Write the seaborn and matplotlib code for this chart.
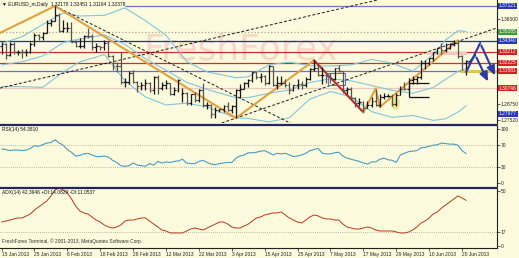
import matplotlib
matplotlib.use("Agg")
import numpy as np
import pandas as pd
import matplotlib.pyplot as plt
import matplotlib.transforms as mtrans
from matplotlib.lines import Line2D
from matplotlib.patches import Rectangle, Ellipse
import seaborn as sns

# ---------------- data ----------------
date_ticks = [0, 8, 16, 24, 32, 40, 48, 56, 64, 72, 80, 88, 96, 104, 112]
date_labels = ["15 Jan 2013", "25 Jan 2013", "6 Feb 2013", "18 Feb 2013", "28 Feb 2013",
               "12 Mar 2013", "22 Mar 2013", "3 Apr 2013", "15 Apr 2013", "25 Apr 2013",
               "7 May 2013", "17 May 2013", "29 May 2013", "10 Jun 2013", "20 Jun 2013"]

bar_open = [1.3363,1.3380,1.3288,1.3385,1.3316,1.3317,1.3316,1.3316,1.3384,1.3457,
            1.3446,1.3478,1.3567,1.3579,1.3634,1.3500,1.3522,1.3523,1.3400,1.3365,
            1.3365,1.3455,1.3451,1.3360,1.3365,1.3362,1.3395,1.3280,1.3193,1.3190,
            1.3060,1.3060,1.3130,1.3055,1.3020,1.3026,1.3050,1.2985,1.3100,1.3005,
            1.3030,1.3045,1.2955,1.2985,1.2950,1.2960,1.2875,1.2950,1.2905,1.2985,
            1.2855,1.2855,1.2780,1.2815,1.2820,1.2845,1.2815,1.2845,1.2990,1.3000,
            1.3050,1.3070,1.3140,1.3100,1.3110,1.3045,1.3190,1.3030,1.3050,1.3050,
            1.3030,1.2990,1.3030,1.3040,1.3030,1.3085,1.3170,1.3180,1.3115,1.3115,
            1.3105,1.3080,1.3175,1.3150,1.2990,1.2995,1.2915,1.2875,1.2880,1.2835,
            1.2855,1.2895,1.2860,1.2930,1.2935,1.2935,1.2865,1.2945,1.3000,1.2995,
            1.3070,1.3085,1.3095,1.3220,1.3220,1.3260,1.3315,1.3345,1.3330,1.3345,
            1.3385,1.3395,1.3280,1.3218]
bar_high = [1.3404,1.3390,1.3403,1.3399,1.3330,1.3343,1.3339,1.3404,1.3478,1.3474,
            1.3491,1.3588,1.3595,1.3711,1.3650,1.3593,1.3576,1.3575,1.3417,1.3435,
            1.3463,1.3520,1.3470,1.3394,1.3370,1.3420,1.3412,1.3288,1.3230,1.3318,
            1.3090,1.3150,1.3160,1.3067,1.3052,1.3079,1.3060,1.3110,1.3120,1.3060,
            1.3076,1.3050,1.3010,1.3084,1.3005,1.2966,1.2954,1.2966,1.2997,1.3050,
            1.2885,1.2866,1.2840,1.2825,1.2855,1.2884,1.2855,1.2996,1.3040,1.3055,
            1.3085,1.3140,1.3150,1.3130,1.3114,1.3200,1.3198,1.3110,1.3110,1.3085,
            1.3059,1.3034,1.3081,1.3066,1.3098,1.3180,1.3243,1.3200,1.3188,1.3125,
            1.3135,1.3180,1.3200,1.3155,1.3010,1.3010,1.2930,1.2920,1.2895,1.2890,
            1.2930,1.3000,1.2950,1.2965,1.2955,1.2955,1.2960,1.3018,1.3060,1.3090,
            1.3105,1.3110,1.3250,1.3245,1.3265,1.3315,1.3350,1.3390,1.3390,1.3390,
            1.3415,1.3416,1.3285,1.3245]
bar_low = [1.3300,1.3256,1.3276,1.3300,1.3290,1.3260,1.3281,1.3304,1.3364,1.3417,
           1.3421,1.3477,1.3543,1.3579,1.3487,1.3491,1.3487,1.3397,1.3354,1.3353,
           1.3351,1.3434,1.3336,1.3315,1.3330,1.3328,1.3268,1.3160,1.3146,1.3040,
           1.3017,1.3043,1.3048,1.2966,1.2983,1.2988,1.2970,1.2955,1.2955,1.2990,
           1.2995,1.2945,1.2940,1.2970,1.2886,1.2862,1.2860,1.2880,1.2880,1.2844,
           1.2822,1.2750,1.2750,1.2800,1.2800,1.2808,1.2790,1.2745,1.2915,1.2994,
           1.3015,1.3052,1.3082,1.3060,1.3030,1.3040,1.3020,1.3000,1.3030,1.3009,
           1.2950,1.2980,1.3000,1.3000,1.3015,1.3070,1.3150,1.3107,1.3038,1.3050,
           1.3050,1.3075,1.3140,1.2960,1.2950,1.2910,1.2840,1.2850,1.2795,1.2830,
           1.2840,1.2850,1.2840,1.2912,1.2925,1.2850,1.2848,1.2940,1.2990,1.2985,
           1.3035,1.3040,1.3085,1.3170,1.3200,1.3240,1.3295,1.3300,1.3315,1.3340,
           1.3365,1.3260,1.3160,1.3116]
bar_close = [1.3380,1.3288,1.3385,1.3316,1.3317,1.3316,1.3316,1.3384,1.3457,1.3446,
             1.3478,1.3567,1.3579,1.3634,1.3500,1.3522,1.3523,1.3400,1.3365,1.3365,
             1.3455,1.3451,1.3360,1.3365,1.3362,1.3395,1.3280,1.3193,1.3190,1.3060,
             1.3060,1.3130,1.3055,1.3020,1.3026,1.3050,1.2985,1.3100,1.3005,1.3030,
             1.3045,1.2955,1.2985,1.3075,1.2960,1.2875,1.2950,1.2905,1.2985,1.2855,
             1.2855,1.2780,1.2815,1.2820,1.2845,1.2815,1.2845,1.2990,1.3000,1.3050,
             1.3070,1.3140,1.3100,1.3110,1.3045,1.3190,1.3030,1.3050,1.3050,1.3030,
             1.2990,1.3030,1.3040,1.3030,1.3085,1.3170,1.3180,1.3115,1.3115,1.3105,
             1.3080,1.3175,1.3150,1.2990,1.2995,1.2915,1.2875,1.2880,1.2835,1.2855,
             1.2895,1.2860,1.2930,1.2935,1.2935,1.2865,1.2945,1.3000,1.2995,1.3070,
             1.3085,1.3095,1.3220,1.3220,1.3260,1.3315,1.3345,1.3330,1.3345,1.3385,
             1.3395,1.3280,1.3220,1.3238]

bb_idx = [0, 5, 10, 15, 19, 25, 30, 35, 40, 45, 50, 57, 60, 65, 70, 75, 80, 85, 90, 95, 100, 105, 108, 111, 113]
bb_upper = [1.3389,1.3446,1.3552,1.3651,1.3625,1.3631,1.3695,1.3584,1.3458,1.3234,1.3143,1.3093,1.3101,
            1.3204,1.3228,1.3196,1.3194,1.3204,1.3250,1.3218,1.3150,1.3293,1.3419,1.3498,1.3492]
bb_middle = [1.3203,1.3231,1.3281,1.3397,1.3427,1.3462,1.3381,1.3255,1.3158,1.3054,1.2992,1.2920,1.2922,
             1.2958,1.2988,1.3052,1.3084,1.3066,1.3026,1.2984,1.2959,1.3009,1.3079,1.3148,1.3171]
bb_lower = [1.3017,1.3016,1.3010,1.3143,1.3229,1.3293,1.3067,1.2927,1.2858,1.2874,1.2841,1.2747,1.2742,
            1.2712,1.2748,1.2909,1.2974,1.2928,1.2801,1.2751,1.2768,1.2725,1.2739,1.2797,1.2850]

rsi = [63,62,60,61,61,60,61,64,69,68, 71,74,75,80,74,70,62,57,50,51,
       54,55,52,49,49,50,48,42,38,32, 31,32,37,33,32,31,36,33,40,37,
       39,38,40,41,44,37,36,36,40,42, 38,35,34,36,37,38,38,46,50,
       52,56,56,57,59,60,56,52,55,54, 55,52,49,50,52,55,60,62,64,55,
       54,54,56,57,50,46,44,42,40,37, 35,39,39,44,46,43,42,38,52,55,
       58,59,60,65,66,68,70,71,74,73, 72,72,70,60,54.38]
adx = [25.0,25.8,26.6,27.5,28.3,28.3,29.9,31.5,34.7,37.1, 39.5,42.0,46.0,50.8,52.4,50.8,48.4,43.6,38.0,34.0,
       32.3,31.5,29.0,26.6,25.0,22.6,21.0,20.2,21.0,22.6, 25.8,26.6,26.6,27.5,28.3,28.3,25.8,23.4,21.0,18.6,
       17.8,16.2,16.2,16.2,16.2,17.8,19.4,20.2,19.4,18.6, 20.2,21.8,23.4,25.0,25.0,23.4,21.0,20.2,20.2,
       21.8,23.4,25.8,28.3,29.1,30.7,31.5,32.3,32.3,33.1, 30.7,28.3,26.6,25.0,24.2,26.6,29.1,30.7,29.9,28.3,
       27.5,27.5,26.6,26.6,23.4,21.0,20.2,19.4,19.4,20.2, 21.0,20.2,18.6,17.8,17.8,17.8,17.8,17.0,16.2,16.2,
       17.0,18.6,21.0,24.2,25.8,28.3,31.5,33.1,36.3,38.7, 41.1,43.6,46.0,44.4,42.4]

# annotation objects drawn on the chart (bar index, price)
zz_orange1_idx = [-0.4, 13, 57, 76]
zz_orange1_px = [1.3479, 1.3711, 1.2745, 1.3243]
zz_red_idx = [76, 88]
zz_red_px = [1.3243, 1.2795]
zz_orange2_idx = [88, 91, 92, 111]
zz_orange2_px = [1.2795, 1.3000, 1.2840, 1.3416]
trend_up1 = [(0, 1.3007), (80, 1.3669)]
trend_up2 = [(57, 1.2745), (110, 1.3394)]
trend_down_idx = [13, 76]
trend_down_px = [1.3711, 1.2600]
arrow_a_idx = [113.0, 116.4, 120.3]
arrow_a_px = [1.3142, 1.3392, 1.3091]
arrow_b_idx = [113.7, 115.2, 118.6]
arrow_b_px = [1.3220, 1.3289, 1.3039]

# horizontal levels: (price, colour, style, start index)
levels = [(1.37113, '#7474C8', '-', 30), (1.34872, '#A8A888', ':', -1),
          (1.34096, '#2A2A9A', '-', -1), (1.33148, '#C83030', '-', -1),
          (1.32200, '#C83030', '-', -1), (1.31510, '#7070B8', '-', -1),
          (1.30044, '#E8C8C0', '-', -1)]
# right-hand price labels: (price, text, box colour or None)
price_labels = [(1.37113, '1.37121', '#2838B8'), (1.35992, '1.36000', None),
                (1.34872, '1.35285', '#3A9A3A'), (1.34096, '1.34340', '#2838B8'),
                (1.33148, '1.33212', '#D82020'), (1.32200, '1.32225', '#D82020'),
                (1.31510, '1.31581', '#D82020'), (1.30044, '1.30746', '#D82020'),
                (1.28665, '1.28750', None), (1.27803, '1.27977', '#2838B8'),
                (1.27286, '1.27520', None)]

# ---------------- figure ----------------
sns.set_theme(style="white")
plt.rcParams['font.family'] = ['Liberation Sans', 'DejaVu Sans']
FS = 3.5
BG = '#FCFBDE'
W, H = 519, 258
fig = plt.figure(figsize=(W / 100, H / 100), dpi=100)
fig.patch.set_facecolor(BG)

def box(x0, y0, x1, y1):
    return [x0 / W, 1 - y1 / H, (x1 - x0) / W, (y1 - y0) / H]

ax = fig.add_axes(box(0, 0, 497, 123))
ax_r = fig.add_axes(box(0, 126, 497, 186.5))
ax_a = fig.add_axes(box(0, 189, 497, 248))

for a in (ax, ax_r, ax_a):
    a.set_facecolor(BG)
    a.set_xlim(-0.39, 120.5)
    for s in ('top', 'left', 'bottom'):
        a.spines[s].set_visible(False)
    a.spines['right'].set_color('#202020')
    a.spines['right'].set_linewidth(0.8)
    a.yaxis.tick_right()
    a.tick_params(axis='y', labelsize=FS, length=2, width=0.5, pad=0.8, colors='#202020')
    a.tick_params(axis='x', bottom=False, labelbottom=False)
    a.grid(False)

ax.set_ylim(1.27027, 1.3763)
ax_r.set_ylim(-6.5, 105.6)
ax_a.set_ylim(4.1, 51.6)

idx = np.arange(len(bar_close))
bars = pd.DataFrame({'i': idx, 'o': bar_open, 'h': bar_high, 'l': bar_low, 'c': bar_close})

# watermark
ax.text(0.485, 0.60, 'FreshForex', transform=ax.transAxes, fontsize=26,
        family='DejaVu Sans', color='#F8D8C4', ha='center', va='center', zorder=0)

# horizontal levels
for p, col, ls, start in levels:
    ax.hlines(p, start, 121, colors=col, linestyles=ls, lw=0.9, zorder=1)
ax.add_patch(Rectangle((103.5, 1.3289), 9.7, 0.0026, facecolor='#F6C6C6', edgecolor='none', zorder=1))
ax.hlines(1.3155, 111.5, 121, colors='#E0C840', lw=2.2, zorder=2)

# Bollinger bands
bb = pd.DataFrame({'i': bb_idx, 'u': bb_upper, 'm': bb_middle, 'l': bb_lower})
for col in ('u', 'm', 'l'):
    sns.lineplot(data=bb, x='i', y=col, ax=ax, color='#86C4DA', lw=0.8, legend=False,
                 estimator=None, sort=False, zorder=2)

# trend lines
for (p1, p2) in (trend_up1, trend_up2):
    ax.axline(p1, p2, color='#1A1A1A', lw=0.7, ls=(0, (3, 2)), zorder=2)
ax.plot(trend_down_idx, trend_down_px, color='#1A1A1A', lw=0.7, ls=(0, (3, 2)), zorder=2)

# zigzag
sns.lineplot(x=zz_orange1_idx, y=zz_orange1_px, ax=ax, color='#E2A040', lw=1.5, sort=False,
             estimator=None, legend=False, zorder=3)
sns.lineplot(x=zz_red_idx, y=zz_red_px, ax=ax, color='#C02828', lw=1.5, sort=False,
             estimator=None, legend=False, zorder=3)
sns.lineplot(x=zz_orange2_idx, y=zz_orange2_px, ax=ax, color='#E2A040', lw=1.5, sort=False,
             estimator=None, legend=False, zorder=3)

# marks: rectangle, bracket, highlight
ax.add_patch(Rectangle((79.4, 1.3030), 4.1, 0.0104, facecolor='none', edgecolor='#6C6CC8', lw=0.8, zorder=4))
ax.hlines([1.3048, 1.2927], 99, 104, colors='#101010', lw=0.9, zorder=4)
ax.vlines(99, 1.2927, 1.3048, colors='#101010', lw=0.9, zorder=4)
ax.add_patch(Ellipse((95.8, 1.2875), 2.2, 0.0115, facecolor='#EEE070', edgecolor='none', alpha=0.8, zorder=2))

# OHLC bars
up = bars['c'] >= bars['o']
colors = np.where(up, '#151515', '#555548')
ax.vlines(bars['i'], bars['l'], bars['h'], colors=colors, lw=0.9, zorder=5)
ax.hlines(bars['o'], bars['i'] - 0.45, bars['i'], colors=colors, lw=0.9, zorder=5)
ax.hlines(bars['c'], bars['i'], bars['i'] + 0.45, colors=colors, lw=0.9, zorder=5)

# forecast arrows
for xi, yp in ((arrow_a_idx, arrow_a_px), (arrow_b_idx, arrow_b_px)):
    ax.plot(xi[:2], yp[:2], color='#2A3AA8', lw=1.5, zorder=6, solid_capstyle='round')
    ax.annotate('', xy=(xi[2], yp[2]), xytext=(xi[1], yp[1]),
                arrowprops=dict(arrowstyle='-|>,head_length=0.45,head_width=0.2', color='#2A3AA8', lw=1.5),
                zorder=6, annotation_clip=False)

# price axis labels
plain = [(p, t) for p, t, c in price_labels if c is None]
ax.set_yticks([p for p, t in plain])
ax.set_yticklabels([t for p, t in plain])
trans = mtrans.blended_transform_factory(ax.transAxes, ax.transData)
for p, t, c in price_labels:
    if c is not None:
        ax.text(1.004, p, t, transform=trans, fontsize=FS, color='white', ha='left', va='center',
                bbox=dict(boxstyle='square,pad=0.15', fc=c, ec='none'), clip_on=False, zorder=10)

ax.text(0.004, 1 - 4.5 / 123, '\u25bc EURUSD_m,Daily  1.32178 1.32451 1.31164 1.32378',
        transform=ax.transAxes, fontsize=FS, color='#101010', ha='left', va='center', zorder=10)

# RSI panel
ax_r.axhline(70, color='#A8A490', lw=0.6, ls=(0, (1, 1.5)))
ax_r.axhline(30, color='#A8A490', lw=0.6, ls=(0, (1, 1.5)))
sns.lineplot(x=idx, y=rsi, ax=ax_r, color='#4C9CC0', lw=0.8, legend=False, estimator=None)
ax_r.set_yticks([0, 30, 70, 100])
ax_r.set_yticklabels(['0', '30', '70', '100'])
ax_r.set_ylabel('')
ax_r.text(0.004, 1 - 4 / 60.5, 'RSI(14) 54.3810', transform=ax_r.transAxes, fontsize=FS,
          color='#101010', ha='left', va='center')

# ADX panel
ax_a.axhline(17, color='#A8A490', lw=0.6, ls=(0, (1, 1.5)))
sns.lineplot(x=idx, y=adx, ax=ax_a, color='#B83A18', lw=0.7, legend=False, estimator=None)
ax_a.set_yticks([5.7, 17, 50])
ax_a.set_yticklabels(['0', '17', '50'])
ax_a.set_ylabel('')
ax_a.text(0.004, 1 - 3.5 / 59, 'ADX(14) 42.3946 +DI:14.0820 -DI:11.0537', transform=ax_a.transAxes,
          fontsize=FS, color='#101010', ha='left', va='center')
ax_a.text(0.004, 1 - 52 / 59, 'FreshForex Terminal, \u00a9 2001-2013, MetaQuotes Software Corp.',
          transform=ax_a.transAxes, fontsize=FS, color='#303030', ha='left', va='center')
ax_a.spines['bottom'].set_visible(True)
ax_a.spines['bottom'].set_color('#202020')
ax_a.spines['bottom'].set_linewidth(0.8)
ax_a.set_xticks(date_ticks)
ax_a.set_xticklabels(date_labels)
ax_a.tick_params(axis='x', bottom=True, labelbottom=True, labelsize=FS, length=2, width=0.5,
                 pad=1, colors='#202020')
for lab in ax_a.get_xticklabels():
    lab.set_ha('left')
for a in (ax, ax_r):
    a.set_ylabel('')
    a.set_xlabel('')
ax_a.set_xlabel('')

# panel separators
for yy in (124.6, 187.7):
    fig.add_artist(Line2D([0, 497 / W], [1 - yy / H] * 2, color='#24245E', lw=1.6))

fig.savefig('out.png', dpi=100, facecolor=BG)
